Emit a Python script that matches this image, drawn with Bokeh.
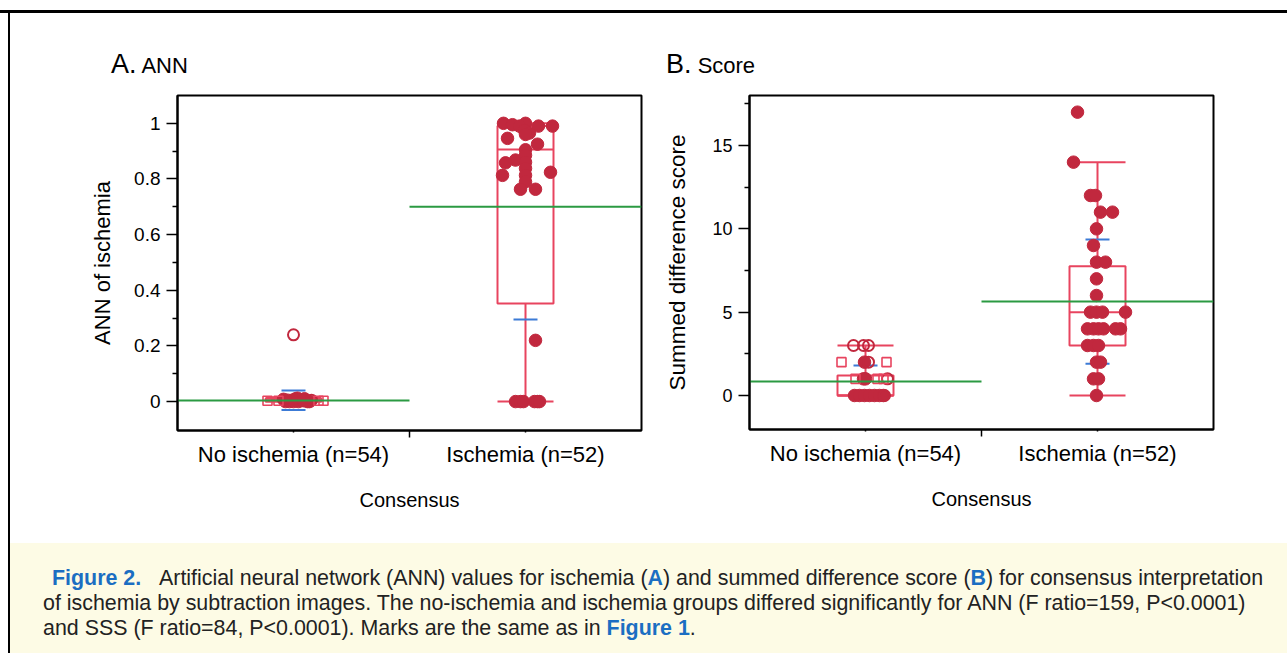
from bokeh.plotting import figure
from bokeh.models import FixedTicker, NumeralTickFormatter, Div, Range1d
from bokeh.layouts import row, column
from bokeh.embed import file_html
from bokeh.resources import INLINE

# ---------------- data ----------------
categories = ["No ischemia (n=54)", "Ischemia (n=52)"]
x_title = "Consensus"

# Panel A: ANN of ischemia
ann_no_filled = [0.0, 0.0, 0.005, 0.01, 0.0, 0.005, 0.01, 0.0, 0.005, 0.0, 0.012, 0.0, 0.008, 0.003]
ann_no_filled_dx = [-8, -4, -1, 2, 5, 8, 11, 14, -6, 0, 4, 16, -10, 10]
ann_no_open_circle = [0.24, 0.005]
ann_no_open_circle_dx = [0, 18]
ann_no_open_square = [0.003, 0.003, 0.003, 0.003]
ann_no_open_square_dx = [-26, -15, 25, 30]

ann_is_filled = [1.0, 0.995, 1.0, 0.99, 0.99, 0.99, 0.975, 0.965, 0.96, 0.946, 0.925,
                 0.905, 0.885, 0.868, 0.858, 0.86, 0.838, 0.824, 0.813, 0.813, 0.79,
                 0.763, 0.763, 0.22, 0.0, 0.0, 0.0, 0.0, 0.0, 0.0]
ann_is_filled_dx = [-22, -13, 0, -6, 13, 27, -1, 4, 0, -18, 12,
                    0, 0, -10, -20, 0, 0, 25, -23, 0, 0,
                    -5, 10, 10, -10, -5, -2, 9, 12, 14]

ann_box = {"q1": [0.0, 0.352], "median": [0.004, 0.906], "q3": [0.01, 0.99],
           "lo": [0.0, 0.0], "hi": [0.015, 1.0]}
ann_mean = [0.004, 0.70]
ann_sd_lo = [-0.03, 0.295]
ann_sd_hi = [0.04, 1.105]

# Panel B: Summed difference score
sss_no_filled = [0, 0, 0, 0, 0, 0, 0, 1, 1, 2]
sss_no_filled_dx = [-11, -6, -1, 4, 9, 14, 18, -2, 0, -1]
sss_no_open_circle = [3, 3, 3, 2, 1, 0]
sss_no_open_circle_dx = [-12, -2, 3, 3, 22, 19]
sss_no_open_square = [2, 2, 1, 1, 1]
sss_no_open_square_dx = [-24, 21, -10, 12, 18]

sss_is_filled = [17, 14, 12, 12, 11, 11, 10, 9, 8, 8, 7, 6,
                 5, 5, 5, 5, 4, 4, 4, 4, 4, 4, 3, 3, 3, 2, 2, 1, 1, 0]
sss_is_filled_dx = [-20, -24, -7, -2, 3, 15, -1, -4, -1, 8, -1, -1,
                    -7, -1, 5, 28, -10, -4, 1, 6, 18, 23, -10, -4, 1, -1, 3, -4, 1, -1]

sss_box = {"q1": [0.0, 3.0], "median": [0.0, 5.0], "q3": [1.2, 7.75],
           "lo": [0.0, 0.0], "hi": [3.0, 14.0]}
sss_mean = [0.84, 5.64]
sss_sd_lo = [-0.1, 1.9]
sss_sd_hi = [1.8, 9.36]

# ---------------- styles ----------------
FONT = "Liberation Sans"
DOT = "#C1283E"
BOXC = "#E8445F"
BLUE = "#3C7BD6"
GREEN = "#2B9A42"
FRAME_W = 464
UNIT_PX = FRAME_W / 2.0
CENTERS = [0.5, 1.5]


def px(v):
    return v / UNIT_PX


def make_panel(frame_h, y_range, yticks, yminor, yfmt, ylabel, tick_fs, ylabel_fs,
               min_left, min_top, min_right, min_bottom,
               box, means, sd_lo, sd_hi, groups, ylabel_standoff):
    p = figure(frame_width=FRAME_W, frame_height=frame_h,
               x_range=Range1d(0, 2), y_range=Range1d(*y_range),
               output_backend="svg", toolbar_location=None,
               min_border_left=min_left, min_border_top=min_top,
               min_border_right=min_right, min_border_bottom=min_bottom)
    p.grid.visible = False
    p.outline_line_color = "black"
    p.outline_line_width = 2
    p.background_fill_color = "white"
    p.border_fill_color = "white"

    # x axis
    xa = p.xaxis[0]
    xa.ticker = FixedTicker(ticks=CENTERS, minor_ticks=[1.0])
    xa.major_label_overrides = {0.5: categories[0], 1.5: categories[1]}
    xa.axis_label = x_title
    xa.axis_label_text_font = FONT
    xa.axis_label_text_font_style = "normal"
    xa.axis_label_text_font_size = "20px"
    xa.axis_label_text_color = "black"
    xa.axis_label_standoff = 19
    xa.major_label_text_font = FONT
    xa.major_label_text_font_size = "22px"
    xa.major_label_text_color = "black"
    xa.major_label_standoff = 4
    xa.major_tick_out = 2
    xa.major_tick_in = 0
    xa.minor_tick_out = 7
    xa.minor_tick_in = 0
    xa.axis_line_width = 2
    xa.major_tick_line_width = 1.5
    xa.minor_tick_line_width = 1.5

    # y axis
    ya = p.yaxis[0]
    ya.ticker = FixedTicker(ticks=yticks, minor_ticks=yminor)
    ya.formatter = NumeralTickFormatter(format=yfmt)
    ya.axis_label = ylabel
    ya.axis_label_text_font = FONT
    ya.axis_label_text_font_style = "normal"
    ya.axis_label_text_font_size = ylabel_fs
    ya.axis_label_text_color = "black"
    ya.axis_label_standoff = ylabel_standoff
    ya.major_label_text_font = FONT
    ya.major_label_text_font_size = tick_fs
    ya.major_label_text_color = "black"
    ya.major_label_standoff = 6
    ya.major_tick_out = 11
    ya.major_tick_in = 0
    ya.minor_tick_out = 5
    ya.minor_tick_in = 0
    ya.axis_line_width = 2
    ya.major_tick_line_width = 1.5
    ya.minor_tick_line_width = 1.5

    bw = px(28)
    sw = px(12)
    for i, c in enumerate(CENTERS):
        # whiskers
        p.segment(x0=[c, c], y0=[box["lo"][i], box["q3"][i]], x1=[c, c],
                  y1=[box["q1"][i], box["hi"][i]], line_color=BOXC, line_width=2)
        p.segment(x0=[c - bw, c - bw], y0=[box["lo"][i], box["hi"][i]],
                  x1=[c + bw, c + bw], y1=[box["lo"][i], box["hi"][i]],
                  line_color=BOXC, line_width=2)
        # box
        p.quad(left=[c - bw], right=[c + bw], bottom=[box["q1"][i]], top=[box["q3"][i]],
               fill_alpha=0, line_color=BOXC, line_width=2)
        p.segment(x0=[c - bw], y0=[box["median"][i]], x1=[c + bw], y1=[box["median"][i]],
                  line_color=BOXC, line_width=2)
        # sd lines
        p.segment(x0=[c - sw, c - sw], y0=[sd_lo[i], sd_hi[i]], x1=[c + sw, c + sw],
                  y1=[sd_lo[i], sd_hi[i]], line_color=BLUE, line_width=2)

    for gi, (vals, dxs, kind) in enumerate(groups):
        c = CENTERS[0] if gi < 3 else CENTERS[1]
        xs = [c + px(d) for d in dxs]
        if kind == "filled":
            p.scatter(xs, vals, marker="circle", size=12.5, fill_color=DOT, line_color=DOT,
                      line_width=1)
        elif kind == "open_circle":
            p.scatter(xs, vals, marker="circle", size=11, fill_color=None, line_color=DOT,
                      line_width=2)
        else:
            p.scatter(xs, vals, marker="square", size=9, fill_color=None, line_color=BOXC,
                      line_width=1.6)

    # group means (green)
    for i, c in enumerate(CENTERS):
        p.segment(x0=[c - 0.5], y0=[means[i]], x1=[c + 0.5], y1=[means[i]],
                  line_color=GREEN, line_width=2)
    return p


TITLE_H = 70

pA = make_panel(335, (-0.104, 1.10), [0, 0.2, 0.4, 0.6, 0.8, 1.0],
                [0.1, 0.3, 0.5, 0.7, 0.9], "0.[0]", "ANN of ischemia", "19px", "22px",
                167, 12, 9, 102,
                ann_box, ann_mean, ann_sd_lo, ann_sd_hi,
                [(ann_no_filled, ann_no_filled_dx, "filled"),
                 (ann_no_open_circle, ann_no_open_circle_dx, "open_circle"),
                 (ann_no_open_square, ann_no_open_square_dx, "open_square"),
                 (ann_is_filled, ann_is_filled_dx, "filled")],
                16)

pB = make_panel(334, (-2.04, 18.0), [0, 5, 10, 15],
                [2.5, 7.5, 12.5, 17.5], "0", "Summed difference score", "18px", "22.5px",
                99, 9, 74, 106,
                sss_box, sss_mean, sss_sd_lo, sss_sd_hi,
                [(sss_no_filled, sss_no_filled_dx, "filled"),
                 (sss_no_open_circle, sss_no_open_circle_dx, "open_circle"),
                 (sss_no_open_square, sss_no_open_square_dx, "open_square"),
                 (sss_is_filled, sss_is_filled_dx, "filled")],
                19)


def title_div(big, small, pad_left, width):
    html = ('<div style="padding:37px 0 0 %dpx;font-family:\'Liberation Sans\',Arial,sans-serif;'
            'color:#000;line-height:28px;white-space:nowrap;">'
            '<span style="font-size:27px;">%s</span><span style="font-size:22px;"> %s</span></div>'
            % (pad_left, big, small))
    return Div(text=html, width=width, height=TITLE_H, margin=0)


titleA = title_div("A.", "ANN", 101, 640)
titleB = title_div("B.", "Score", 16, 637)

BLUEC = "#1B6EC2"
cap_html = (
    '<div style="margin-top:11px;width:1277px;height:110px;background:#FDFBE5;'
    'box-sizing:border-box;padding:23px 0 0 33px;font-family:\'Liberation Sans\',Arial,sans-serif;'
    'font-size:21.4px;line-height:25px;color:#222;white-space:nowrap;">'
    '<span style="margin-left:9px;color:%s;font-weight:bold;">Figure 2.</span>'
    '&nbsp; &nbsp;Artificial neural network (ANN) values for ischemia (<b style="color:%s">A</b>) '
    'and summed difference score (<b style="color:%s">B</b>) for consensus interpretation<br>'
    'of ischemia by subtraction images. The no-ischemia and ischemia groups differed significantly '
    'for ANN (F ratio=159, P&lt;0.0001)<br>'
    'and SSS (F ratio=84, P&lt;0.0001). Marks are the same as in '
    '<b style="color:%s">Figure 1</b>.</div>' % (BLUEC, BLUEC, BLUEC, BLUEC)
)
caption = Div(text=cap_html, width=1277, height=121, margin=0)

top_gap = Div(text="", width=1287, height=10, margin=0)
top_line = Div(text="", width=1287, height=3, margin=0, styles={"background-color": "#000"})
left_gap = Div(text="", width=8, height=640, margin=0)
left_line = Div(text="", width=2, height=640, margin=0, styles={"background-color": "#000"})

layout = column(top_gap, top_line,
                row(left_gap, left_line, column(row(titleA, titleB), row(pA, pB), caption)))

open("out.html", "w").write(file_html(layout, INLINE))
